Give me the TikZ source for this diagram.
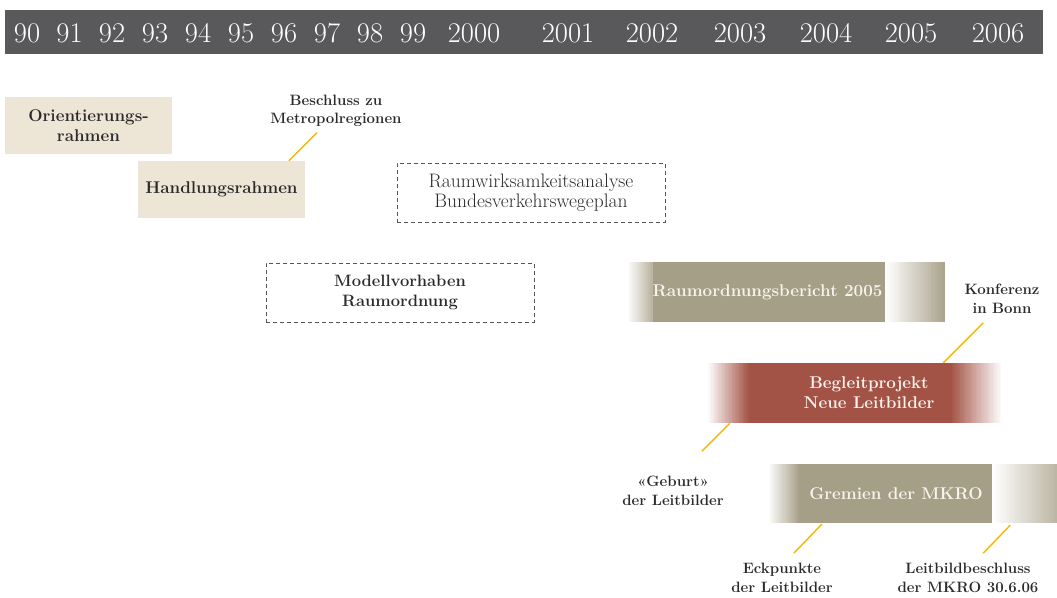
\documentclass[tikz,border=0pt]{standalone}
\usepackage{fontspec}
\usepackage{xcolor}
\definecolor{cHead}{HTML}{59595B}
\definecolor{cBeige}{HTML}{EDE5D6}
\definecolor{cOlive}{HTML}{A69F87}
\definecolor{cRed}{HTML}{A35346}
\definecolor{cInk}{HTML}{2B2B2B}
\definecolor{cDash}{HTML}{555555}
\definecolor{cLead}{HTML}{F5B700}
\definecolor{cPale}{HTML}{F7F3EC}
\usepackage{tikz}
\usetikzlibrary{positioning,calc}
% weicher Uebergang: x0, x1, oben, unten, Farbe, Anteil links, Anteil rechts
\newcommand{\fadestrip}[7]{%
  \foreach \k [evaluate=\k as \pp using {#6+(#7-#6)*\k/30},
               evaluate=\k as \xa using {#1+(#2-#1)*\k/31},
               evaluate=\k as \xb using {min(#2,#1+(#2-#1)*(\k+1)/31+0.6)}] in {0,...,30}
    \fill[#5!\pp] (\xa,#3) rectangle (\xb,#4);}
\tikzset{
  year/.style={text=white,font=\fontsize{28.5}{30}\selectfont,inner sep=0pt},
  box-beige/.style={fill=cBeige,minimum width=167,minimum height=57,
    align=center,text=cInk,font=\fontsize{17}{20}\selectfont\bfseries},
  box-dashed/.style={draw=cDash,dashed,line width=1pt,
    dash pattern=on 4pt off 3pt,minimum width=268,minimum height=59,
    align=center,text=cInk,font=\fontsize{19.5}{20}\selectfont},
  bar-olive/.style={fill=cOlive,minimum height=60,inner sep=0pt,
    align=center,text=cPale,font=\fontsize{17}{20}\selectfont\bfseries},
  bar-red/.style={bar-olive,fill=cRed},
  note/.style={align=center,text=cInk,inner sep=0pt,
    font=\fontsize{15}{18.5}\selectfont\bfseries},
  leader/.style={draw=cLead,line width=1.4pt},
}

\begin{document}
\begin{tikzpicture}[x=1pt,y=-1pt]
  \useasboundingbox (0,0) rectangle (1057,597);
  % Zeitleiste
  \fill[cHead] (5,10) rectangle (1043,54);
  \foreach \yr/\xx in {90/27,91/69.5,92/112,93/155,94/198,95/241,96/284,%
      97/327,98/370,99/413,2000/474,2001/568,2002/652,2003/740,2004/826,%
      2005/911,2006/998}
    \node[year] (y\yr) at (\xx,33) {\yr};

  % Rahmen
  \node[box-beige] (orient) at (88.5,125.5) {Orientierungs-\\rahmen};
  \node[box-beige] (hr) at (221.5,189.5) {Handlungsrahmen};
  \node[note] (besch) at (336,111) {Beschluss zu\\Metropolregionen};
  \draw[leader] ($(hr.north west)+(151,0)$) -- ++(28,-28);

  \node[box-dashed] (rwa) at (531,192.5) {Raumwirksamkeitsanalyse\\Bundesverkehrswegeplan};
  \node[box-dashed,font=\fontsize{16.5}{20}\selectfont\bfseries] (mvr) at (400,292.5)
    {Modellvorhaben\\Raumordnung};

  % Raumordnungsbericht
  \fadestrip{627}{660}{262}{322}{cOlive}{0}{100}
  \node[bar-olive,minimum width=225] (rob) at (772.5,292) {Raumordnungsbericht 2005\hspace*{10pt}};
  \fadestrip{885}{945}{262}{322}{cOlive}{0}{95}
  \node[note] (konf) at (1002,299) {Konferenz\\in Bonn};

  % Begleitprojekt
  \node[bar-red,minimum width=238] (blp) at (869,393) {Begleitprojekt\\Neue Leitbilder};
  \fadestrip{707}{750}{363}{423}{cRed}{0}{100}
  \fadestrip{950}{1003}{363}{423}{cRed}{100}{0}
  \draw[leader] ($(blp.north east)+(-45,0)$) -- ++(40,-40);
  \node[note] (geburt) at (673,491) {«Geburt»\\der Leitbilder};
  \draw[leader] ($(blp.south west)+(-20,0)$) -- ++(-28,28);

  % Gremien
  \node[bar-olive,minimum width=192,minimum height=59] (gr) at (896,493.5) {Gremien der MKRO};
  \fadestrip{768}{800}{464}{523}{cOlive}{0}{100}
  \fadestrip{992}{1057}{464}{523}{cOlive}{0}{75}
  \node[note] (eck) at (782,578) {Eckpunkte\\der Leitbilder};
  \draw[leader] ($(gr.south west)+(22,1)$) -- ++(-28,29);
  \node[note] (lbb) at (968,578) {Leitbildbeschluss\\der MKRO 30.6.06};
  \draw[leader] ($(gr.south east)+(18,2)$) -- ++(-27,28);
\end{tikzpicture}
\end{document}
